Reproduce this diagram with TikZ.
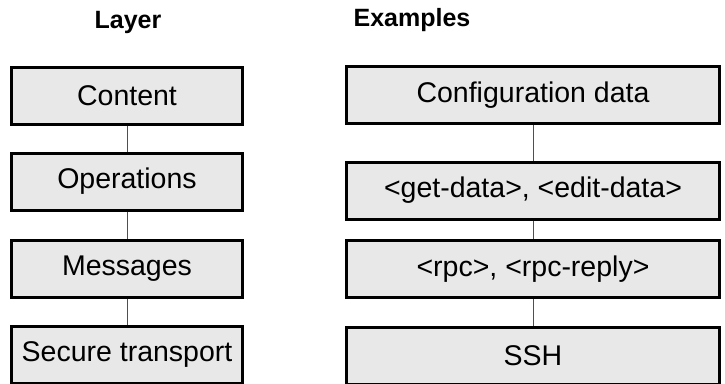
\documentclass[tikz,border=0pt]{standalone}
\usepackage{fontspec}
\setmainfont{Liberation Sans}
\definecolor{boxfill}{HTML}{E8E8E8}
\definecolor{linkcol}{RGB}{50,85,120}
\begin{document}
\begin{tikzpicture}[x=1pt,y=-1pt,
  layerbox/.style={draw=black,line width=3pt,fill=boxfill,minimum height=57pt,inner sep=0pt,font=\fontsize{28.5}{33}\selectfont},
  leftbox/.style={layerbox,minimum width=231pt},
  rightbox/.style={layerbox,minimum width=373pt},
  headtext/.style={font=\fontsize{25}{29}\selectfont\bfseries,inner sep=0pt},
  link/.style={draw=linkcol,line width=1pt}]
\useasboundingbox (0,0) rectangle (725,383);
\node[headtext] (hl) at (128,22) {Layer};
\node[headtext] (hr) at (412,20) {Examples};
\node[leftbox] (l1) at (127,95.5) {Content};
\node[leftbox] (l2) at (127,181.5) {Operations};
\node[leftbox] (l3) at (127,268.5) {Messages};
\node[leftbox] (l4) at (127,355) {Secure transport};
\node[rightbox] (r1) at (533,95) {Configuration data};
\node[rightbox] (r2) at (533,190.5) {<get-data>, <edit-data>};
\node[rightbox] (r3) at (533,269) {<rpc>, <rpc-reply>};
\node[rightbox] (r4) at (533,355.5) {SSH};
\draw[link] (l1.south) -- (l2.north);
\draw[link] (l2.south) -- (l3.north);
\draw[link] (l3.south) -- (l4.north);
\draw[link] (r1.south) -- (r2.north);
\draw[link] (r2.south) -- (r3.north);
\draw[link] (r3.south) -- (r4.north);
\end{tikzpicture}
\end{document}
